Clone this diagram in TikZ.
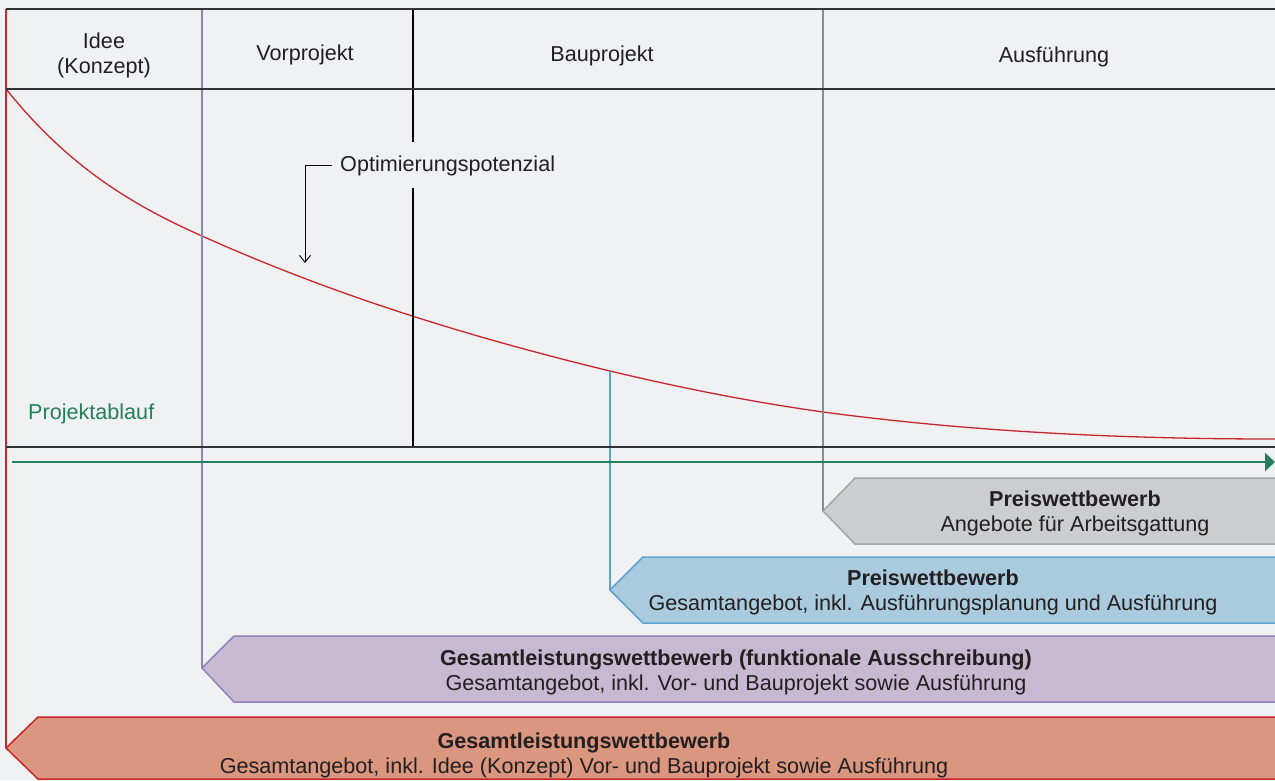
\documentclass[tikz,border=0pt]{standalone}
\usepackage{fontspec}
\setmainfont{Liberation Sans}
\usetikzlibrary{arrows.meta}
\definecolor{bg}{HTML}{F0F1F3}
\definecolor{txt}{HTML}{231F20}
\definecolor{frame}{HTML}{333333}
\definecolor{redl}{HTML}{C8262E}
\definecolor{redf}{HTML}{DB9680}
\definecolor{purl}{HTML}{8E83BC}
\definecolor{purf}{HTML}{C8B9D3}
\definecolor{blul}{HTML}{5BA3D6}
\definecolor{bluf}{HTML}{AACBDD}
\definecolor{gryl}{HTML}{A3A5A8}
\definecolor{gryf}{HTML}{CBCDD1}
\definecolor{grn}{HTML}{23805A}
\tikzset{
  lbl/.style={font=\fontsize{21.6}{25}\selectfont, text=txt, align=center, inner sep=0pt},
  bannertext/.style={font=\fontsize{21.6}{25}\selectfont, text=txt, align=center, inner sep=0pt},
  frameline/.style={draw=frame, line width=1.8pt},
}
\begin{document}
\begin{tikzpicture}[x=1pt,y=-1pt]
\useasboundingbox (0,0) rectangle (1275,780);
\fill[bg] (0,0) rectangle (1275,780);

% coordinates
\coordinate (tl) at (6,9);
\coordinate (tr) at (1280,9);
\coordinate (hl) at (6,89);
\coordinate (hr) at (1280,89);
\coordinate (bl) at (6,447);
\coordinate (br) at (1280,447);

% banners
\draw[fill=redf, draw=redl, line width=1.5pt] (1290,717) -- (38,717) -- (6,748) -- (38,779) -- (1290,779);
\draw[fill=purf, draw=purl, line width=1.5pt] (1290,636) -- (234,636) -- (202,668) -- (234,702) -- (1290,702);
\draw[fill=bluf, draw=blul, line width=1.5pt] (1290,557) -- (643,557) -- (610,590) -- (643,623) -- (1290,623);
\draw[fill=gryf, draw=gryl, line width=1.5pt] (1290,478) -- (855,478) -- (823,511) -- (855,544) -- (1290,544);

\coordinate (tipR) at (6,748);
\coordinate (tipP) at (202,668);
\coordinate (tipB) at (610,590);
\coordinate (tipG) at (823,511);

\node[bannertext] (b4) at (584,755.5) {\textbf{Gesamtleistungswettbewerb}\\Gesamtangebot, inkl. Idee (Konzept) Vor- und Bauprojekt sowie Ausführung};
\node[bannertext] (b3) at (736,672) {\textbf{Gesamtleistungswettbewerb (funktionale Ausschreibung)}\\Gesamtangebot, inkl. Vor- und Bauprojekt sowie Ausführung};
\node[bannertext] (b2) at (933,592) {\textbf{Preiswettbewerb}\\Gesamtangebot, inkl. Ausführungsplanung und Ausführung};
\node[bannertext] (b1) at (1075,513.5) {\textbf{Preiswettbewerb}\\Angebote für Arbeitsgattung};

% header texts
\node[lbl] (h1) at (104,55) {Idee\\(Konzept)};
\node[lbl] (h2) at (305,54.5) {Vorprojekt};
\node[lbl] (h3) at (602,55.5) {Bauprojekt};
\node[lbl] (h4) at (1054,56.5) {Ausführung};
\node[lbl, text=grn, anchor=west] (pa) at (28,414) {Projektablauf};
\node[lbl, anchor=west] (opt) at (340,166) {Optimierungspotenzial};

% red curve
\coordinate (c0) at (6,89);
\coordinate (c1) at (202,236);
\coordinate (c2) at (610,371);
\coordinate (c3) at (823,412);
\coordinate (c4) at (1275,439);
\draw[redl, line width=1.3pt] (c0) .. controls (71,170) and (137,207) .. (c1)
  .. controls (338,297) and (474,338) .. (c2)
  .. controls (681,388) and (752,402) .. (c3)
  .. controls (973,432) and (1125,439) .. (c4);

% vertical lines
\coordinate (v1t) at (202,9);
\coordinate (v2t) at (413,9);
\coordinate (v2a) at (413,142);
\coordinate (v2b) at (413,188);
\coordinate (v2c) at (413,447);
\coordinate (v3t) at (823,8);
\draw[redl, line width=1.5pt] (tl) -- (tipR);
\draw[purl, line width=1.5pt] (v1t) -- (tipP);
\draw[black, line width=1.3pt] (v2t) -- (v2a);
\draw[black, line width=1.3pt] (v2b) -- (v2c);
\draw[gryl!85!black, line width=1.5pt] (v3t) -- (tipG);
\draw[blul, line width=1.5pt] (c2) -- (tipB);

% frame lines
\draw[frameline] (tl) -- (tr);
\draw[draw=frame, line width=1.3pt] (hl) -- (hr);
\draw[frameline] (bl) -- (br);

% green arrow
\coordinate (ga) at (12,462);
\coordinate (gb) at (1275,462);
\draw[grn, line width=2.2pt, -{Triangle[length=10pt,width=18pt]}] (ga) -- (gb);

% optimierung leader
\coordinate (oc) at (305,165);
\coordinate (od) at (305,263);
\draw[black, line width=0.9pt] (opt.west) ++(-8,-1) coordinate (oa) -- (oc);
\draw[black, line width=0.9pt, -{Straight Barb[length=7pt,width=11pt]}] (oc) -- (od);
\end{tikzpicture}
\end{document}
